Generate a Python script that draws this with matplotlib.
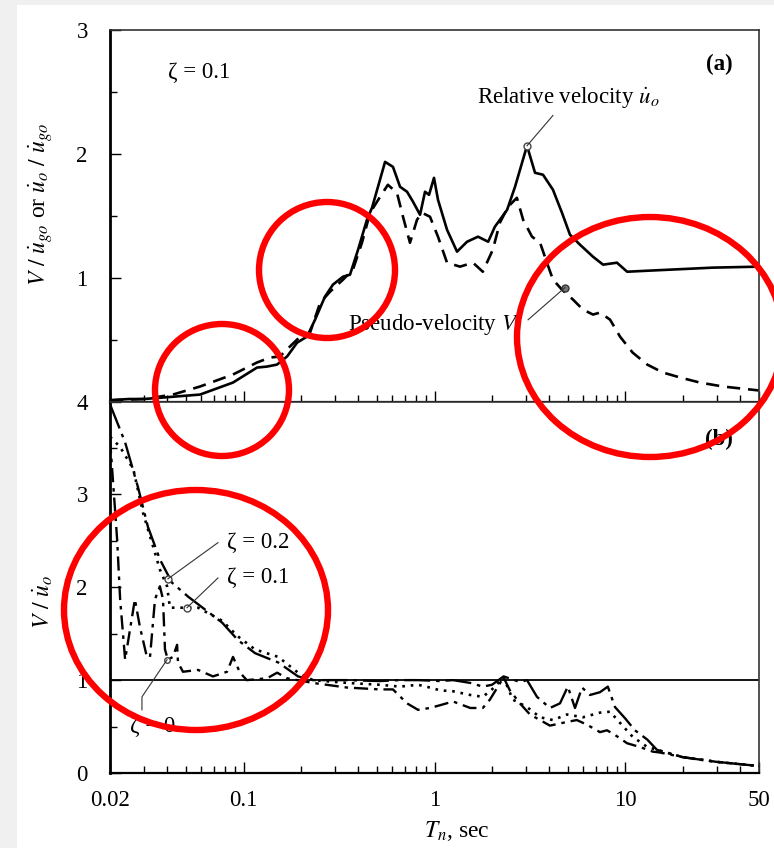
import matplotlib
matplotlib.use('Agg')
import matplotlib.pyplot as plt
from matplotlib.patches import Ellipse, Rectangle
from matplotlib.ticker import FixedLocator, NullFormatter, FixedFormatter

plt.rcParams['font.family'] = ['Liberation Serif', 'DejaVu Serif']
plt.rcParams['mathtext.fontset'] = 'stix'

# ---------------- data (a) ----------------
T_rel = [0.02, 0.025, 0.03, 0.0365, 0.0592, 0.0881, 0.1177, 0.1327, 0.1497, 0.169, 0.191, 0.215, 0.237,
         0.267, 0.294, 0.332, 0.361, 0.398, 0.443, 0.471, 0.506, 0.551, 0.606, 0.66, 0.718, 0.772, 0.84,
         0.892, 0.936, 0.994, 1.043, 1.163, 1.312, 1.48, 1.69, 1.91, 2.07, 2.40, 2.64, 3.05, 3.36, 3.70,
         4.17, 4.65, 5.12, 5.78, 6.76, 7.63, 9.02, 10.2, 13.0, 28.7, 50]
V_rel = [0.01, 0.02, 0.02, 0.03, 0.056, 0.153, 0.274, 0.282, 0.298, 0.363, 0.476, 0.524, 0.661,
         0.847, 0.944, 1.008, 1.024, 1.226, 1.468, 1.565, 1.734, 1.935, 1.895, 1.734, 1.694, 1.613, 1.508,
         1.694, 1.669, 1.806, 1.629, 1.387, 1.21, 1.29, 1.331, 1.29, 1.411, 1.548, 1.734, 2.065, 1.847, 1.831,
         1.71, 1.524, 1.347, 1.266, 1.169, 1.105, 1.121, 1.048, 1.056, 1.081, 1.089]

T_pse = [0.02, 0.03, 0.0427, 0.0592, 0.0881, 0.1177, 0.1376, 0.155, 0.175, 0.198, 0.223, 0.252, 0.284,
         0.332, 0.374, 0.417, 0.460, 0.519, 0.570, 0.636, 0.684, 0.744, 0.810, 0.860, 0.947, 1.043, 1.163,
         1.36, 1.59, 1.79, 2.02, 2.20, 2.43, 2.70, 2.91, 3.24, 3.57, 3.88, 4.17, 4.65, 5.31, 5.99, 6.76,
         7.35, 8.30, 9.36, 10.9, 13.0, 15.7, 19.3, 24.5, 32.4, 44.9, 50]
V_pse = [0.01, 0.02, 0.056, 0.121, 0.218, 0.315, 0.355, 0.363, 0.444, 0.524, 0.556, 0.798, 0.887,
         0.984, 1.065, 1.282, 1.524, 1.653, 1.75, 1.685, 1.492, 1.282, 1.468, 1.524, 1.492, 1.331, 1.121,
         1.089, 1.121, 1.048, 1.226, 1.444, 1.573, 1.645, 1.468, 1.331, 1.282, 1.121, 0.984, 0.903, 0.823,
         0.742, 0.702, 0.718, 0.661, 0.524, 0.395, 0.298, 0.234, 0.194, 0.153, 0.121, 0.097, 0.089]

# ---------------- data (b) ----------------
T_z0 = [0.02, 0.0218, 0.0226, 0.024, 0.027, 0.0287, 0.0312, 0.0324, 0.0344, 0.0365, 0.0379, 0.0388,
        0.0402, 0.0427, 0.0449, 0.0454, 0.0482, 0.0578, 0.0692, 0.082, 0.0881, 0.0959, 0.104, 0.133,
        0.150, 0.169, 0.231, 0.348, 0.519, 0.606, 0.718, 0.82, 0.947, 1.07, 1.25, 1.54, 1.79, 1.95,
        2.30, 2.48, 2.80, 3.16, 3.57, 4.02, 4.94, 5.56, 6.29, 7.35, 8.0, 8.81, 10.2, 11.9, 13.9, 15.2,
        20, 30, 50]
V_z0 = [3.6, 2.51, 1.87, 1.22, 1.87, 1.57, 1.25, 1.25, 1.87, 2.01, 1.87, 1.33,
        1.22, 1.25, 1.38, 1.19, 1.09, 1.11, 1.04, 1.09, 1.25, 1.08, 1.00, 1.02,
        1.08, 1.02, 0.97, 0.92, 0.90, 0.90, 0.75, 0.68, 0.70, 0.73, 0.77, 0.70, 0.70, 0.79,
        1.03, 0.89, 0.75, 0.63, 0.57, 0.51, 0.55, 0.57, 0.52, 0.44, 0.46, 0.41, 0.32, 0.28, 0.23, 0.22,
        0.17, 0.12, 0.075]

T_z1 = [0.02, 0.0207, 0.0226, 0.0265, 0.0298, 0.0336, 0.0365, 0.0398, 0.0412, 0.0449, 0.0506, 0.0578,
        0.0772, 0.0936, 0.115, 0.152, 0.193, 0.231, 0.348, 0.519, 0.66, 0.82, 0.947, 1.07, 1.25, 1.54,
        1.79, 2.0, 2.30, 2.57, 3.05, 3.57, 4.17, 4.94, 5.99, 7.35, 8.30, 9.36, 10.9, 13.0, 14.6, 20, 30, 50]
V_z1 = [3.62, 3.59, 3.51, 3.27, 2.80, 2.44, 2.19, 2.01, 1.78, 1.78, 1.78, 1.78,
        1.64, 1.47, 1.33, 1.25, 1.08, 1.0, 0.97, 0.95, 0.93, 0.95, 0.92, 0.89, 0.88, 0.84,
        0.82, 0.90, 1.03, 0.79, 0.71, 0.60, 0.57, 0.63, 0.60, 0.65, 0.66, 0.54, 0.39, 0.28, 0.25, 0.17, 0.12, 0.075]

T_z2 = [0.02, 0.024, 0.028, 0.0316, 0.0365, 0.0422, 0.0512, 0.0629, 0.0772, 0.0936, 0.115, 0.152,
        0.193, 0.231, 0.348, 0.519, 0.66, 0.82, 1.07, 1.25, 1.54, 1.79, 2.0, 2.30, 2.80, 3.05, 3.44,
        4.02, 4.54, 4.99, 5.44, 5.92, 6.52, 7.35, 8.08, 8.81, 9.94, 11.2, 13.0, 14.6, 20, 30, 50]
V_z2 = [3.97, 3.56, 3.08, 2.65, 2.30, 2.05, 1.90, 1.76, 1.62, 1.43, 1.29, 1.19,
        1.04, 1.0, 1.0, 0.99, 1.0, 1.0, 0.99, 1.0, 0.97, 0.93, 0.95, 1.04, 0.98, 1.0, 0.82,
        0.70, 0.75, 0.93, 0.70, 0.92, 0.84, 0.87, 0.93, 0.71, 0.59, 0.46, 0.36, 0.25, 0.17, 0.12, 0.075]

x_major = [0.02, 0.1, 1, 10, 50]
x_major_labels = ['0.02', '0.1', '1', '10', '50']
x_minor = [0.03, 0.04, 0.05, 0.06, 0.07, 0.08, 0.09, 0.2, 0.3, 0.4, 0.5, 0.6, 0.7, 0.8, 0.9,
           2, 3, 4, 5, 6, 7, 8, 9, 20, 30, 40]
y1_major = [1, 2, 3]
y1_minor = [0.5, 1.5, 2.5]
y2_major = [0, 1, 2, 3, 4]
y2_minor = [0.5, 1.5, 2.5, 3.5]

# red highlight circles (figure pixels: cx, cy, rx, ry)
circles_px = [(222, 390, 67, 66), (327, 270, 68, 68), (650, 337, 133, 120), (196, 610, 132, 120)]

W, H = 774, 848
fig = plt.figure(figsize=(W / 100, H / 100), dpi=100, facecolor='#f0f0f0')
fig.add_artist(Rectangle((17 / W, 0), 1 - 17 / W, (H - 5) / H, transform=fig.transFigure,
                         facecolor='white', edgecolor='none', zorder=-5))

L, Wd = 110 / W, 649 / W
ax1 = fig.add_axes([L, 1 - 401.5 / H, Wd, 371.5 / H])
ax2 = fig.add_axes([L, 1 - 773 / H, Wd, 371.5 / H])

FS = 16.5
LFS = 17
for ax in (ax1, ax2):
    ax.set_xscale('log')
    ax.set_xlim(0.02, 50)
    ax.xaxis.set_major_locator(FixedLocator(x_major))
    ax.xaxis.set_minor_locator(FixedLocator(x_minor))
    ax.xaxis.set_minor_formatter(NullFormatter())
    ax.tick_params(which='both', direction='in', top=False, right=False, labelsize=FS)
    ax.tick_params(which='major', length=8, width=1.0)
    ax.tick_params(which='minor', length=5, width=1.0)
    ax.tick_params(axis='x', pad=12)
    ax.tick_params(axis='y', pad=16)
    for s in ('top', 'right'):
        ax.spines[s].set_linewidth(1.2)
        ax.spines[s].set_color('#333333')
    ax.spines['left'].set_linewidth(2.0)
    ax.spines['bottom'].set_linewidth(1.6)
    ax.set_facecolor('white')

# panel (a)
ax1.set_ylim(0, 3)
ax1.yaxis.set_major_locator(FixedLocator(y1_major))
ax1.yaxis.set_minor_locator(FixedLocator(y1_minor))
ax1.tick_params(axis='x', which='both', labelbottom=False)
ax1.plot(T_rel, V_rel, color='black', lw=1.9)
ax1.plot(T_pse, V_pse, color='black', lw=1.9, dashes=(5, 3))
ax1.plot([3.05], [2.065], 'o', mfc='white', mec='#444444', ms=5, mew=1.0)
ax1.plot([4.82], [0.92], 'o', mfc='#777777', mec='#333333', ms=5, mew=1.0)
ax1.plot([4.17, 3.05], [2.31, 2.065], color='#333333', lw=0.8)
ax1.plot([3.09, 4.82], [0.66, 0.92], color='#333333', lw=0.8)
ax1.text(1.67, 2.45, r'Relative velocity $\dot{u}_o$', fontsize=FS, ha='left', va='center')
ax1.text(0.352, 0.62, r'Pseudo-velocity $V$', fontsize=FS, ha='left', va='center')
ax1.text(0.0402, 2.66, 'ζ = 0.1', fontsize=FS, ha='left', va='center')
ax1.text(36.6, 2.72, '(a)', fontsize=FS, ha='right', va='center', fontweight='bold')
ax1.set_ylabel(r'$V\ /\ \dot{u}_{go}$ or $\dot{u}_o\ /\ \dot{u}_{go}$', fontsize=LFS)
ax1.yaxis.set_label_coords(-0.085, 0.53)

# panel (b)
ax2.set_ylim(0, 4)
ax2.yaxis.set_major_locator(FixedLocator(y2_major))
ax2.yaxis.set_minor_locator(FixedLocator(y2_minor))
ax2.xaxis.set_major_formatter(FixedFormatter(x_major_labels))
ax2.axhline(1, color='black', lw=1.3)
ax2.plot(T_z0, V_z0, color='black', lw=1.7, dashes=(6, 2.5, 1.5, 2.5))
ax2.plot(T_z1, V_z1, color='black', lw=1.9, dashes=(1, 2.2))
ax2.plot(T_z2, V_z2, color='black', lw=1.7, dashes=(11, 2.5, 1.5, 2.5))
ax2.plot([0.0402], [2.09], 'o', mfc='white', mec='#444444', ms=5, mew=1.0)
ax2.plot([0.0506], [1.78], 'o', mfc='white', mec='#444444', ms=5, mew=1.0)
ax2.plot([0.0398], [1.22], 'o', mfc='white', mec='#444444', ms=4, mew=1.0)
ax2.plot([0.0735, 0.0402], [2.48, 2.09], color='#333333', lw=0.8)
ax2.plot([0.0735, 0.0506], [2.10, 1.78], color='#333333', lw=0.8)
ax2.plot([0.0294, 0.0294, 0.0398], [0.68, 0.82, 1.22], color='#333333', lw=0.8)
ax2.text(0.082, 2.48, 'ζ = 0.2', fontsize=FS, ha='left', va='center')
ax2.text(0.082, 2.10, 'ζ = 0.1', fontsize=FS, ha='left', va='center')
ax2.text(0.0254, 0.50, 'ζ = 0', fontsize=FS, ha='left', va='center')
ax2.text(36.6, 3.59, '(b)', fontsize=FS, ha='right', va='center', fontweight='bold')
ax2.set_ylabel(r'$V\ /\ \dot{u}_o$', fontsize=LFS)
ax2.yaxis.set_label_coords(-0.085, 0.46)
ax2.set_xlabel(r'$T_n$, sec', fontsize=LFS)
ax2.xaxis.set_label_coords(0.535, -0.125)

for cx, cy, rx, ry in circles_px:
    fig.add_artist(Ellipse((cx / W, 1 - cy / H), 2 * rx / W, 2 * ry / H, transform=fig.transFigure,
                           fill=False, edgecolor='#ff0000', lw=4.6, zorder=20))

fig.savefig('out.png', dpi=100, facecolor=fig.get_facecolor())
